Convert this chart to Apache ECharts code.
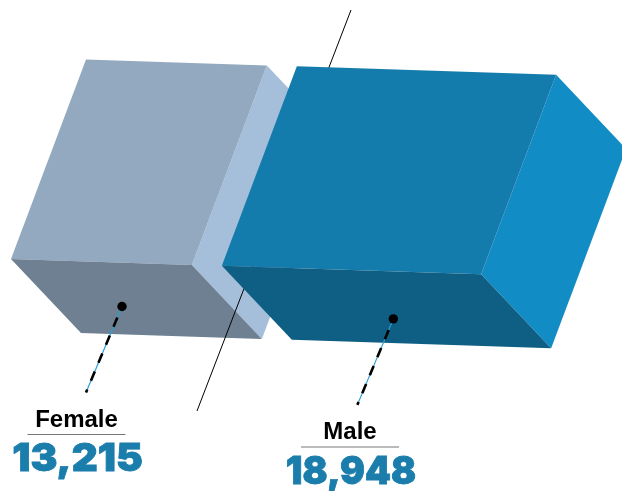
<!DOCTYPE html>
<html>
<head>
<meta charset="utf-8">
<style>html,body{margin:0;padding:0;background:#fff}#c{width:622px;height:491px}</style>
<script src="https://cdn.jsdelivr.net/npm/echarts@6/dist/echarts.min.js"></script>
</head>
<body>
<div id="c"></div>
<script>
const categories = ['Female', 'Male'];
const values = [13215, 18948];

const topColors = ['#93a9c0', '#147cac'];
const sideColors = ['#a5bfdb', '#128cc4'];
const underColors = ['#6e8092', '#0f5f85'];

const UP = [75, -199.5], DEPTH = [70, 74], SKEW = 0.0326, BASE = [11, 259];
const GAP = 2192;
const DOT = [[111, 47.5], [171.5, 53]];
const TAIL = [-36, 86];
const LABEL_Y = [[420, 434.5, 459], [432, 447, 472]];
const LABEL_X = [76.5, 350];
const NUM_X = [77.5, 351];
const NUM_SCALE = [1.09, 1];

const starts = values.map((v, i) => i === 0 ? 0 : values.slice(0, i).reduce((a, b) => a + b, 0) + GAP * i);
const fmt = v => v.toLocaleString('en-US');

function poly(points, fill) {
  return { type: 'polygon', shape: { points }, style: { fill, stroke: null }, silent: true };
}

function boxItem(i) {
  return function (params, api) {
    const s = api.value(0), v = api.value(1);
    const xa = api.coord([s, 0])[0], xb = api.coord([s + v, 0])[0];
    const yOf = x => BASE[1] + SKEW * (x - BASE[0]);
    const a = [xa, yOf(xa)], b = [xb, yOf(xb)];
    const add = (p, d) => [p[0] + d[0], p[1] + d[1]];
    const at = add(a, UP), bt = add(b, UP), ad = add(a, DEPTH), bd = add(b, DEPTH), btd = add(bt, DEPTH);
    const dot = [a[0] + DOT[i][0], a[1] + DOT[i][1]];
    const tail = [dot[0] + TAIL[0], dot[1] + TAIL[1]];
    const lx = LABEL_X[i], ly = LABEL_Y[i], nx = NUM_X[i];
    return {
      type: 'group',
      children: [
        poly([bt, btd, bd, b], sideColors[i]),
        poly([at, bt, b, a], topColors[i]),
        poly([a, b, bd, ad], underColors[i]),
        { type: 'line', shape: { x1: dot[0], y1: dot[1], x2: tail[0], y2: tail[1] }, style: { stroke: '#2a9fd6', lineWidth: 1.2 } },
        { type: 'line', shape: { x1: dot[0], y1: dot[1], x2: tail[0], y2: tail[1] }, style: { stroke: '#000', lineWidth: 2.6, lineDash: [10, 9.5], lineDashOffset: 7.5 } },
        { type: 'circle', shape: { cx: dot[0], cy: dot[1], r: 4.7 }, style: { fill: '#000' } },
        { type: 'text', style: { text: categories[i], x: lx, y: ly[0], align: 'center', verticalAlign: 'middle', fill: '#000', font: '700 24px "Liberation Sans", sans-serif' } },
        { type: 'line', shape: { x1: lx - 49, y1: ly[1], x2: lx + 49, y2: ly[1] }, style: { stroke: '#777', lineWidth: 1 } },
        { type: 'text', x: nx, y: ly[2], scaleX: NUM_SCALE[i], scaleY: 1.05, style: { text: fmt(v), x: 0, y: 0, align: 'center', verticalAlign: 'middle', fill: '#1a7dab', stroke: '#1a7dab', lineWidth: 0.8, font: '900 37px Inter, sans-serif' } }
      ]
    };
  };
}

function spineItem(params, api) {
  return { type: 'line', shape: { x1: 351, y1: 10, x2: 197, y2: 411 }, style: { stroke: '#000', lineWidth: 1 }, silent: true };
}

const chart = echarts.init(document.getElementById('c'), null, { renderer: 'canvas' });
chart.setOption({
  animation: false,
  backgroundColor: '#fff',
  grid: { left: 0, right: 0, top: 0, bottom: 0 },
  xAxis: { type: 'value', min: -804, max: 44648, show: false },
  yAxis: { type: 'value', min: 0, max: 491, inverse: true, show: false },
  series: [
    { type: 'custom', z: 1, clip: false, renderItem: boxItem(0), data: [[starts[0], values[0]]] },
    { type: 'custom', z: 2, clip: false, renderItem: spineItem, data: [[0, 0]] },
    { type: 'custom', z: 3, clip: false, renderItem: boxItem(1), data: [[starts[1], values[1]]] }
  ]
});
</script>
</body>
</html>
